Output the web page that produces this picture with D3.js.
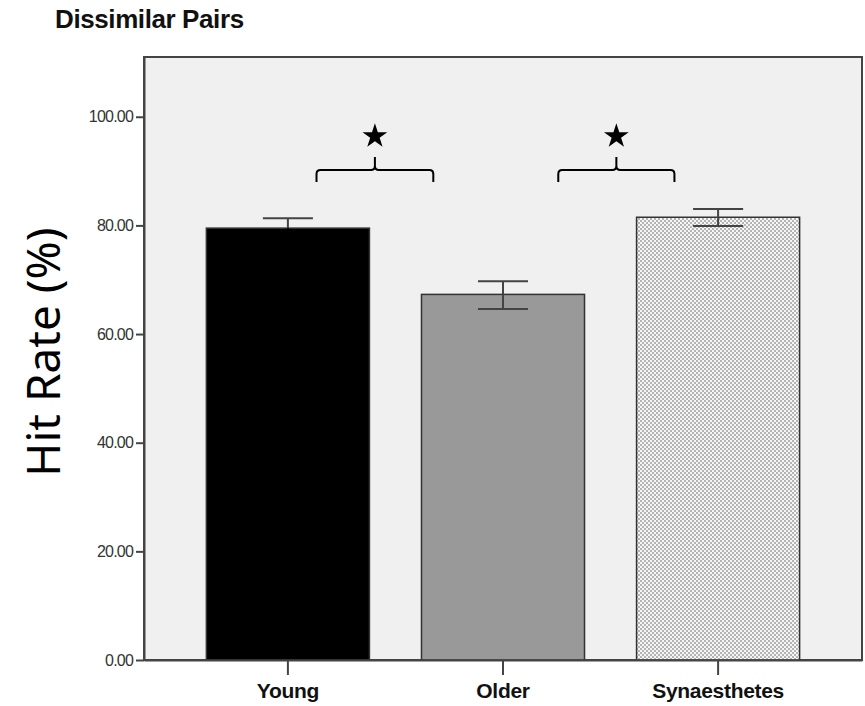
<!DOCTYPE html>
<html lang="en">
<head>
<meta charset="UTF-8">
<title>Dissimilar Pairs</title>
<script src="https://d3js.org/d3.v7.min.js"></script>
<style>
    html, body { margin: 0; padding: 0; background: #fff; }
    svg { display: block; }
    .tick text { font-family: "Liberation Sans", Arial, sans-serif; }
</style>
</head>
<body>
<div id="chart"></div>
<script>
// data
const groups   = ["Young", "Older", "Synaesthetes"];
const hitRate  = [79.5, 67.3, 81.5];
const errLow   = [77.7, 64.6, 79.9];
const errHigh  = [81.3, 69.7, 83.0];
const yTicks   = [0, 20, 40, 60, 80, 100];
// significance braces: from/to group, offsets in band steps, height in %
const braceFrom   = ["Young", "Older"];
const braceTo     = ["Older", "Synaesthetes"];
const braceOffA   = [0.133, 0.257];
const braceOffB   = [-0.324, -0.203];
const braceLevel  = [90.2, 90.2];

const W = 865, H = 706;
const m = {left: 144, right: 3, top: 57, bottom: 46};

const svg = d3.select("#chart").append("svg")
    .attr("width", W).attr("height", H);

// dotted pattern for the synaesthete bar
const pat = svg.append("defs").append("pattern")
    .attr("id", "dots").attr("patternUnits", "userSpaceOnUse")
    .attr("width", 4).attr("height", 4);
pat.append("rect").attr("width", 4).attr("height", 4).attr("fill", "#f6f6f6");
pat.append("rect").attr("x", 0).attr("y", 0).attr("width", 2).attr("height", 2).attr("fill", "#b4b4b4");
pat.append("rect").attr("x", 2).attr("y", 2).attr("width", 2).attr("height", 2).attr("fill", "#b4b4b4");

const fills = ["#000000", "#999999", "url(#dots)"];
const errColors = ["#000", "#444", "#444"];

const x = d3.scaleBand().domain(groups)
    .range([m.left, W - m.right])
    .paddingInner(0.242).paddingOuter(0.29);
const y = d3.scaleLinear().domain([0, 111]).range([H - m.bottom, m.top]);

// plot background + frame
svg.append("rect")
    .attr("x", m.left).attr("y", m.top)
    .attr("width", W - m.right - m.left).attr("height", H - m.bottom - m.top)
    .attr("fill", "#f0f0f0").attr("stroke", "#444").attr("stroke-width", 2);

// bars
svg.selectAll("rect.bar").data(groups).join("rect")
    .attr("class", "bar")
    .attr("x", d => x(d))
    .attr("y", (d, i) => y(hitRate[i]))
    .attr("width", x.bandwidth())
    .attr("height", (d, i) => y(0) - y(hitRate[i]))
    .attr("fill", (d, i) => fills[i])
    .attr("stroke", "#333").attr("stroke-width", 1.5);

// error bars (lower half inside the black bar is not visible)
const capW = x.bandwidth() * 0.307;
const cx = d => x(d) + x.bandwidth() / 2;
const eb = svg.selectAll("g.err").data(groups).join("g")
    .attr("class", "err")
    .attr("stroke-width", 2);
eb.append("line")
    .attr("stroke", "#444")
    .attr("x1", cx).attr("x2", cx)
    .attr("y1", (d, i) => y(hitRate[i])).attr("y2", (d, i) => y(errHigh[i]));
eb.append("line")
    .attr("stroke", (d, i) => errColors[i])
    .attr("x1", cx).attr("x2", cx)
    .attr("y1", (d, i) => y(errLow[i])).attr("y2", (d, i) => y(hitRate[i]));
eb.append("line")
    .attr("stroke", "#444")
    .attr("x1", d => cx(d) - capW / 2).attr("x2", d => cx(d) + capW / 2)
    .attr("y1", (d, i) => y(errHigh[i])).attr("y2", (d, i) => y(errHigh[i]));
eb.append("line")
    .attr("stroke", (d, i) => errColors[i])
    .attr("x1", d => cx(d) - capW / 2).attr("x2", d => cx(d) + capW / 2)
    .attr("y1", (d, i) => y(errLow[i])).attr("y2", (d, i) => y(errLow[i]));

// axes
const yAxis = svg.append("g")
    .attr("transform", `translate(${m.left},0)`)
    .call(d3.axisLeft(y).tickValues(yTicks).tickFormat(d3.format(".2f"))
        .tickSizeInner(8).tickSizeOuter(0).tickPadding(3));
const xAxis = svg.append("g")
    .attr("transform", `translate(0,${H - m.bottom})`)
    .call(d3.axisBottom(x).tickSizeInner(15).tickSizeOuter(0).tickPadding(8));
[yAxis, xAxis].forEach(a => {
    a.select(".domain").attr("stroke", "#444").attr("stroke-width", 2);
    a.selectAll(".tick line").attr("stroke", "#444").attr("stroke-width", 2);
});
yAxis.selectAll(".tick text")
    .attr("fill", "#333").attr("font-size", 16).attr("letter-spacing", -0.8);
xAxis.selectAll(".tick text")
    .attr("fill", "#111").attr("font-size", 21).attr("font-weight", "bold")
    .attr("letter-spacing", -0.3);

// title
svg.append("text")
    .attr("x", 55).attr("y", 28)
    .attr("font-family", "Liberation Sans, Arial, sans-serif")
    .attr("font-weight", "bold").attr("font-size", 26)
    .attr("letter-spacing", -0.4)
    .attr("fill", "#111")
    .text("Dissimilar Pairs");

// y label
svg.append("text")
    .attr("transform", `translate(60,${352}) rotate(-90)`)
    .attr("text-anchor", "middle")
    .attr("font-family", "Noto Sans, sans-serif")
    .attr("font-size", 46)
    .attr("fill", "#000")
    .text("Hit Rate (%)");

// significance braces + stars
const star = d3.symbol().type(d3.symbolStar).size(190);
braceFrom.forEach((g, i) => {
    const step = x.step();
    const x0 = cx(g) + braceOffA[i] * step;
    const x1 = cx(braceTo[i]) + braceOffB[i] * step;
    const xm = (x0 + x1) / 2;
    const yl = y(braceLevel[i]);
    const yEnd = yl + 12, yTip = yl - 13, r = 4;
    const p = `M${x0},${yEnd} L${x0},${yl + r} Q${x0},${yl} ${x0 + r},${yl}` +
        ` L${xm - r},${yl} Q${xm},${yl} ${xm},${yl - r} L${xm},${yTip}` +
        ` M${xm},${yl - r} Q${xm},${yl} ${xm + r},${yl} L${x1 - r},${yl}` +
        ` Q${x1},${yl} ${x1},${yl + r} L${x1},${yEnd}`;
    svg.append("path").attr("d", p)
        .attr("fill", "none").attr("stroke", "#000").attr("stroke-width", 2);
    svg.append("path").attr("d", star)
        .attr("transform", `translate(${xm},${y(braceLevel[i] + 6.2)})`)
        .attr("fill", "#000");
});
</script>
</body>
</html>
